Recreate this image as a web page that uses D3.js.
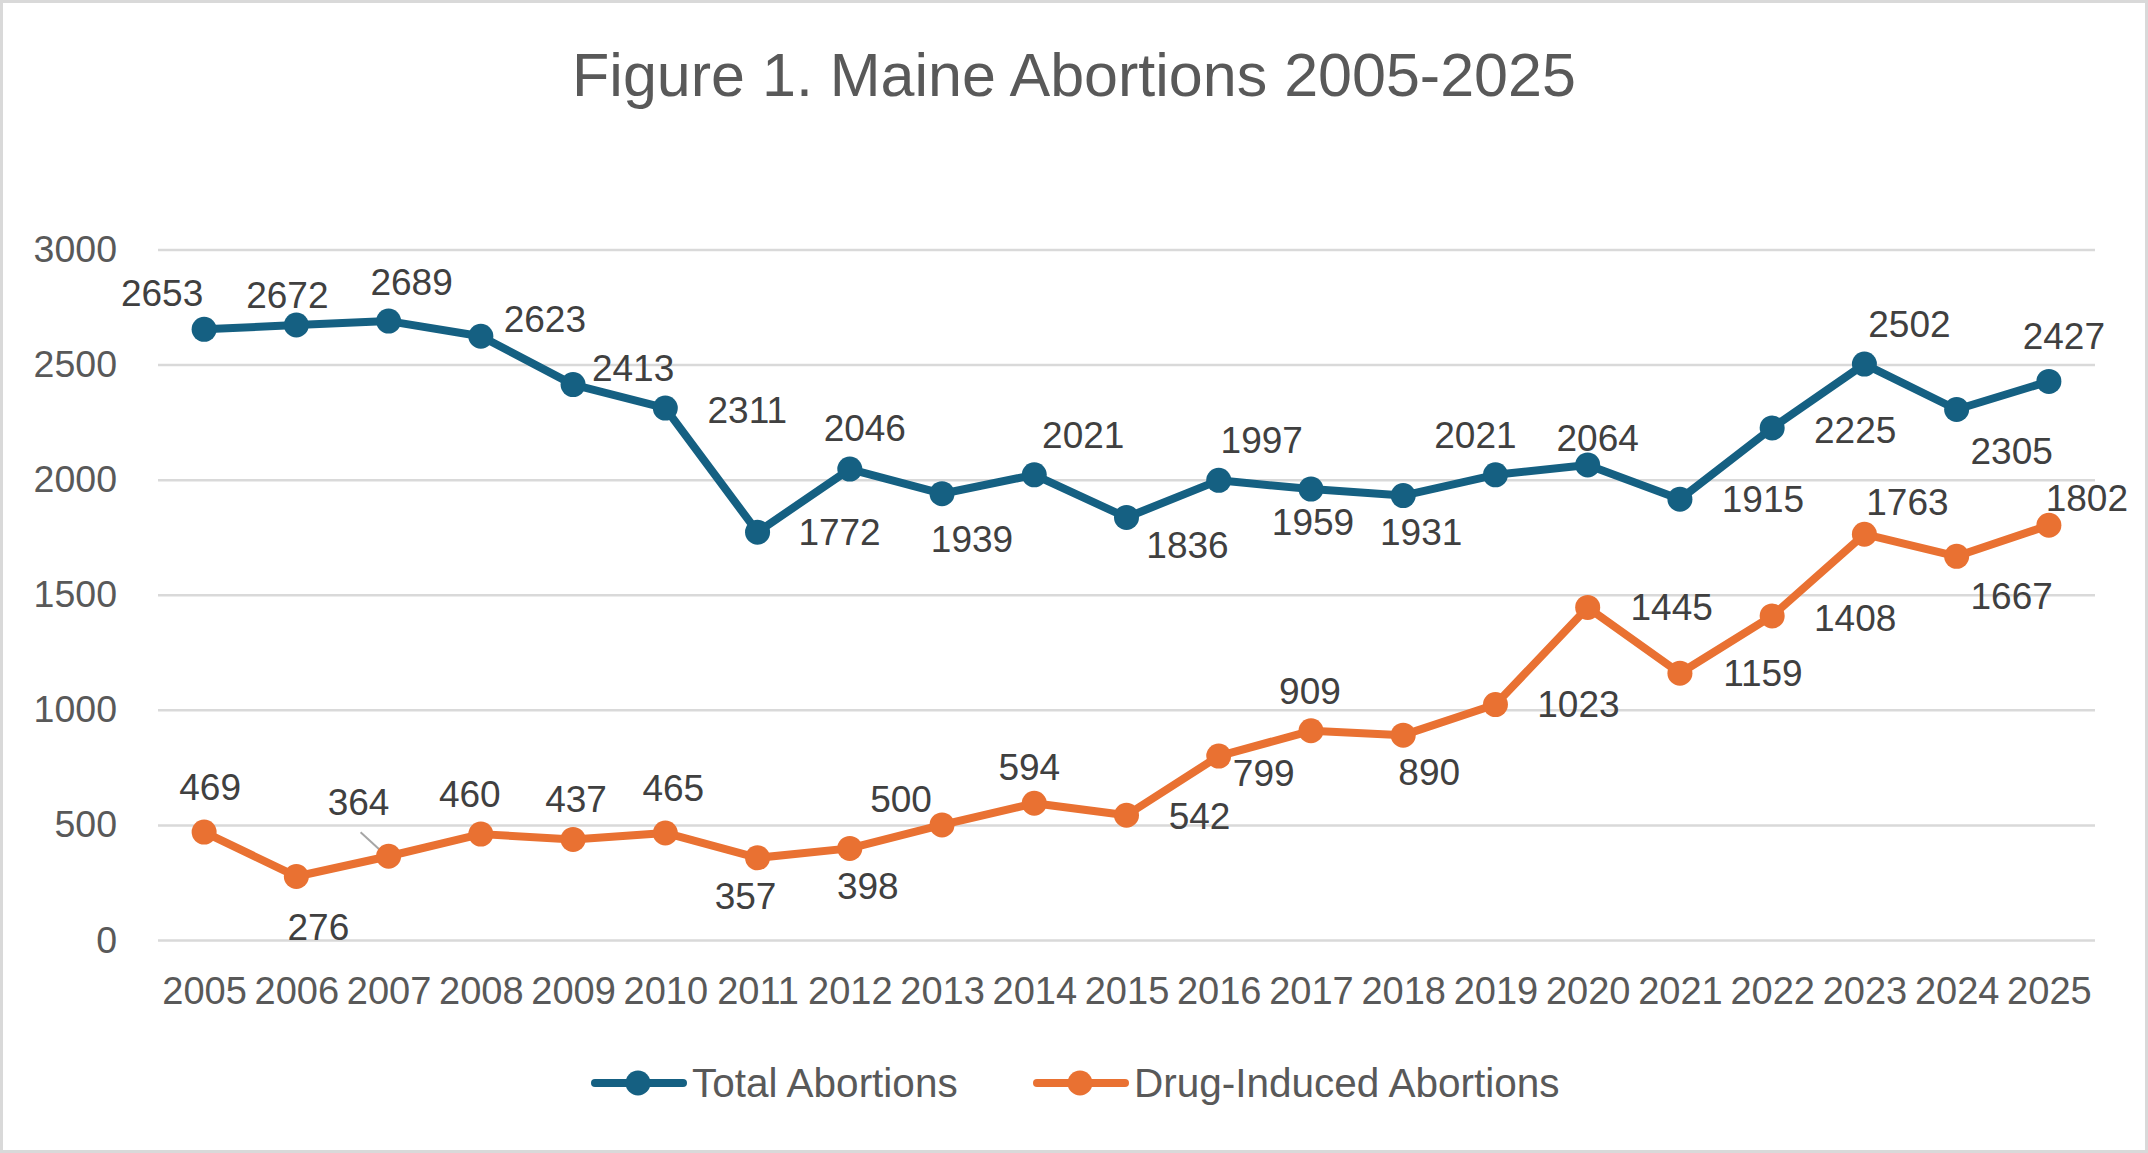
<!DOCTYPE html>
<html>
<head>
<meta charset="utf-8">
<script src="https://cdn.jsdelivr.net/npm/d3@7"></script>
<style>
  html, body { margin: 0; padding: 0; background: #fff; }
  svg { display: block; font-family: "Liberation Sans", Arial, sans-serif; }
</style>
</head>
<body>
<div id="chart"></div>
<script>
// chart data
const years = ["2005","2006","2007","2008","2009","2010","2011","2012","2013","2014","2015",
  "2016","2017","2018","2019","2020","2021","2022","2023","2024","2025"];
const totalAbortions = [2653, 2672, 2689, 2623, 2413, 2311, 1772, 2046, 1939, 2021, 1836,
  1997, 1959, 1931, 2021, 2064, 1915, 2225, 2502, 2305, 2427];
const drugInducedAbortions = [469, 276, 364, 460, 437, 465, 357, 398, 500, 594, 542,
  799, 909, 890, 1023, 1445, 1159, 1408, 1763, 1667, 1802];
const yTicks = [0, 500, 1000, 1500, 2000, 2500, 3000];

// where each data label sits relative to its point (px), as in the original
const totalLabelNudge = [[-42,-36],[-9,-30],[23,-39],[64,-17],[60,-17],[82,2],[82,0],[15,-41],
  [30,45],[49,-40],[61,28],[43,-40],[2,33],[18,37],[-20,-40],[10,-27],[83,0],[83,2],[45,-40],[55,42],[15,-45]];
const drugLabelNudge = [[6,-45],[22,51],[-30,-54],[-11,-40],[3,-40],[8,-45],[-12,38],[18,38],
  [-41,-26],[-5,-36],[73,1],[45,17],[-1,-40],[26,37],[83,0],[84,0],[83,0],[83,2],[43,-32],[55,40],[38,-27]];

const W = 2148, H = 1153;
const plotLeft = 158, plotRight = 2095, plotTop = 249.5, plotBottom = 940;

const series = [
  { name: "Total Abortions", values: totalAbortions, color: "#156082", nudge: totalLabelNudge },
  { name: "Drug-Induced Abortions", values: drugInducedAbortions, color: "#E97132", nudge: drugLabelNudge }
];

const svg = d3.select("#chart").append("svg")
  .attr("width", W)
  .attr("height", H);

svg.append("rect")
  .attr("x", 1.5).attr("y", 1.5)
  .attr("width", W - 3).attr("height", H - 3)
  .attr("fill", "#fff")
  .attr("stroke", "#d9d9d9")
  .attr("stroke-width", 3);

const x = d3.scalePoint()
  .domain(years)
  .range([plotLeft, plotRight])
  .padding(0.5);

const y = d3.scaleLinear()
  .domain([0, 3000])
  .range([plotBottom, plotTop]);

// title
svg.append("text")
  .attr("x", 1074)
  .attr("y", 75)
  .attr("dy", "0.35em")
  .attr("text-anchor", "middle")
  .style("font-size", "61px")
  .style("fill", "#595959")
  .text("Figure 1. Maine Abortions 2005-2025");

// gridlines + y axis
const yAxis = svg.append("g")
  .attr("transform", "translate(" + plotLeft + ",0)")
  .call(d3.axisLeft(y).tickValues(yTicks).tickFormat(d3.format("d"))
    .tickSize(-(plotRight - plotLeft)).tickPadding(41));
yAxis.select(".domain").remove();
yAxis.selectAll(".tick line").attr("stroke", "#d9d9d9").attr("stroke-width", 2.5);
yAxis.selectAll(".tick text")
  .style("font-size", "37.5px")
  .style("font-family", "\"Liberation Sans\", Arial, sans-serif")
  .attr("fill", "#595959");

// x axis
const xAxis = svg.append("g")
  .attr("transform", "translate(0," + plotBottom + ")")
  .call(d3.axisBottom(x).tickSize(0).tickPadding(37));
xAxis.select(".domain").remove();
xAxis.selectAll(".tick text")
  .style("font-size", "38px")
  .style("font-family", "\"Liberation Sans\", Arial, sans-serif")
  .attr("fill", "#595959");

const line = d3.line()
  .x((d, i) => x(years[i]))
  .y(d => y(d));

// leader line for the 2007 drug-induced label
svg.append("line")
  .attr("x1", x(years[2]) - 28)
  .attr("y1", y(drugInducedAbortions[2]) - 24)
  .attr("x2", x(years[2]) - 4)
  .attr("y2", y(drugInducedAbortions[2]) - 2)
  .attr("stroke", "#a6a6a6")
  .attr("stroke-width", 2);

for (const s of series) {
  svg.append("path")
    .datum(s.values)
    .attr("fill", "none")
    .attr("stroke", s.color)
    .attr("stroke-width", 8)
    .attr("stroke-linejoin", "round")
    .attr("stroke-linecap", "round")
    .attr("d", line);

  svg.append("g")
    .selectAll("circle")
    .data(s.values)
    .enter()
    .append("circle")
      .attr("cx", (d, i) => x(years[i]))
      .attr("cy", d => y(d))
      .attr("r", 12.5)
      .attr("fill", s.color);

  svg.append("g")
    .selectAll("text")
    .data(s.values)
    .enter()
    .append("text")
      .attr("x", (d, i) => x(years[i]) + s.nudge[i][0])
      .attr("y", (d, i) => y(d) + s.nudge[i][1])
      .attr("dy", "0.35em")
      .attr("text-anchor", "middle")
      .style("font-size", "37px")
      .style("fill", "#404040")
      .text(d => d);
}

// legend
const legendItems = [
  { name: series[0].name, color: series[0].color, x0: 591 },
  { name: series[1].name, color: series[1].color, x0: 1033 }
];
const legend = svg.append("g").attr("transform", "translate(0,1083)");
for (const item of legendItems) {
  legend.append("line")
    .attr("x1", item.x0 + 4).attr("x2", item.x0 + 92)
    .attr("y1", 0).attr("y2", 0)
    .attr("stroke", item.color)
    .attr("stroke-width", 8)
    .attr("stroke-linecap", "round");
  legend.append("circle")
    .attr("cx", item.x0 + 47).attr("cy", 0)
    .attr("r", 12.5)
    .attr("fill", item.color);
  legend.append("text")
    .attr("x", item.x0 + 101)
    .attr("y", 0)
    .attr("dy", "0.35em")
    .style("font-size", "40.5px")
    .style("fill", "#595959")
    .text(item.name);
}
</script>
</body>
</html>
